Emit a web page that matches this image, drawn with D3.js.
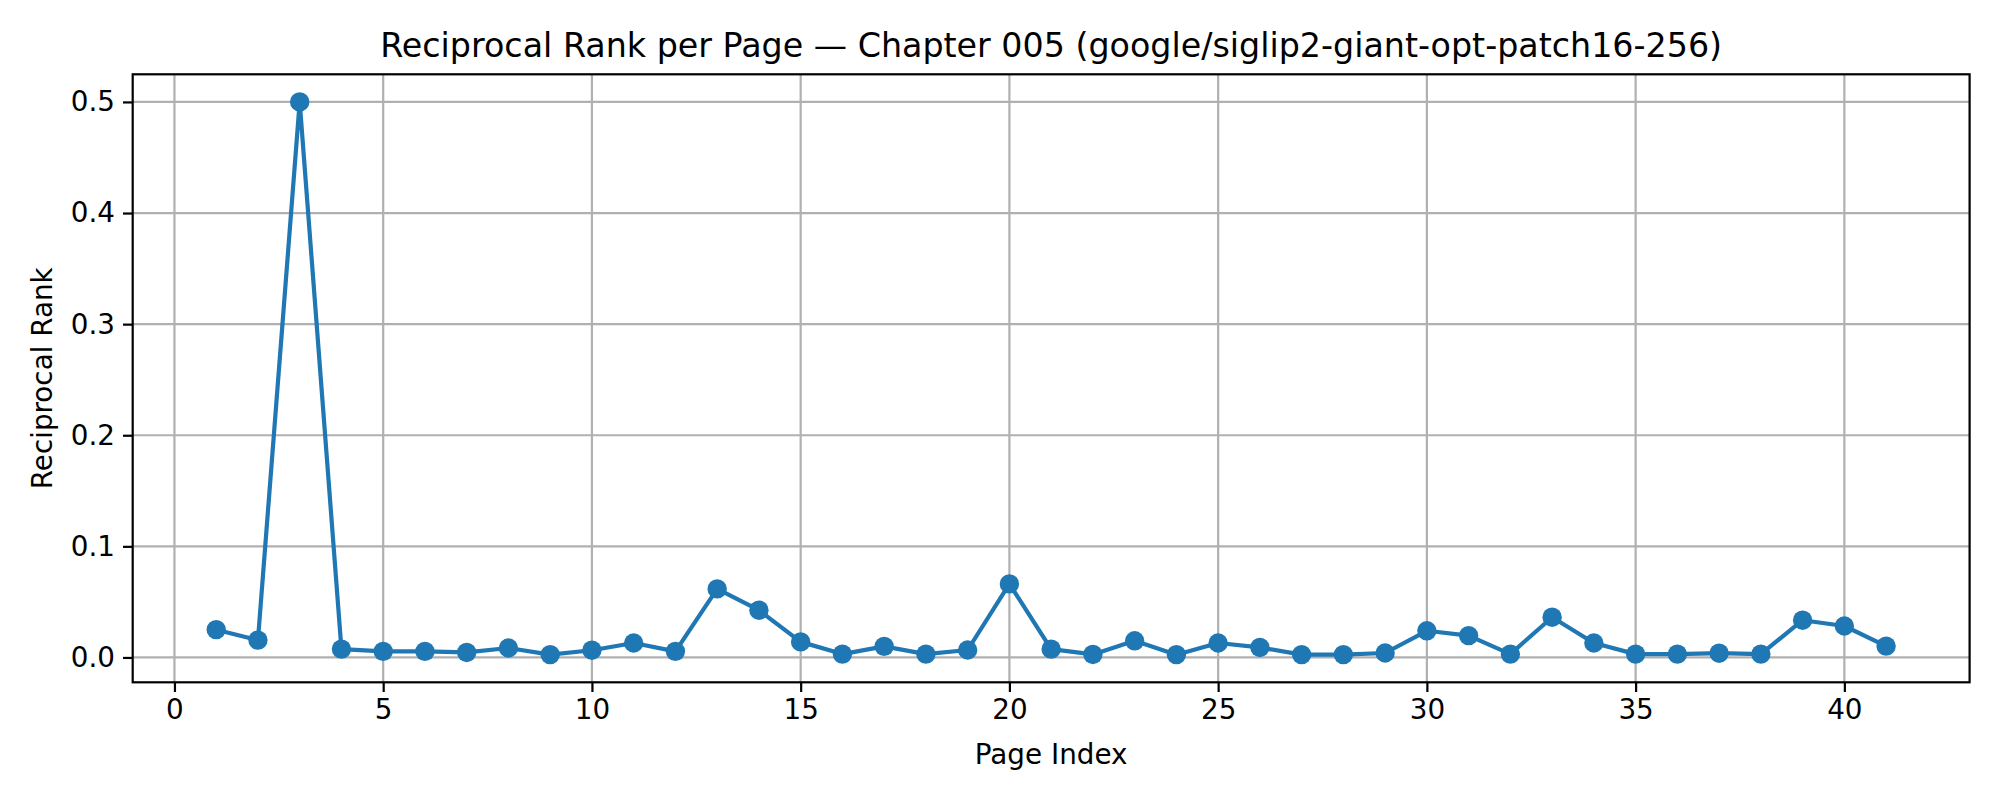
<!DOCTYPE html>
<html>
<head>
<meta charset="utf-8">
<script src="https://cdn.jsdelivr.net/npm/d3@7"></script>
<style>
  body { margin: 0; background: #fff; }
  svg text { font-family: "DejaVu Sans", sans-serif; fill: #000; }
</style>
</head>
<body>
<div id="chart"></div>
<script>
// page indices and reciprocal rank per page
const pages = d3.range(1, 42);
const ranks = [
  0.025, 0.0156, 0.5, 0.0075, 0.0055, 0.0055, 0.0045, 0.0085, 0.0025, 0.0065,
  0.013, 0.0055, 0.0617, 0.0425, 0.014, 0.003, 0.01, 0.003, 0.0067, 0.0662,
  0.0075, 0.0027, 0.015, 0.0025, 0.013, 0.009, 0.0025, 0.0025, 0.004, 0.024,
  0.0196, 0.003, 0.0362, 0.013, 0.003, 0.003, 0.0038, 0.003, 0.0335, 0.0283,
  0.0102
];
const xTicks = [0, 5, 10, 15, 20, 25, 30, 35, 40];
const yTicks = [0.0, 0.1, 0.2, 0.3, 0.4, 0.5];

const W = 2000, H = 800;
const m = { left: 132.7, right: 2000 - 1969.6, top: 74.3, bottom: 800 - 682.3 };

const svg = d3.select("#chart").append("svg")
    .attr("width", W)
    .attr("height", H);

svg.append("rect")
    .attr("width", W)
    .attr("height", H)
    .style("fill", "#fff");

// matplotlib style 5% margins
const xs = d3.scaleLinear().domain([-1, 43]).range([m.left, W - m.right]);
const yMin = d3.min(ranks), yMax = d3.max(ranks);
const pad = (yMax - yMin) * 0.05;
const ys = d3.scaleLinear().domain([yMin - pad, yMax + pad]).range([H - m.bottom, m.top]);

// grid
const grid = svg.append("g")
    .attr("stroke", "#b0b0b0")
    .attr("stroke-width", 2.2);
grid.selectAll("line.gx")
    .data(xTicks)
    .join("line")
    .attr("x1", d => xs(d)).attr("x2", d => xs(d))
    .attr("y1", m.top).attr("y2", H - m.bottom);
grid.selectAll("line.gy")
    .data(yTicks)
    .join("line")
    .attr("class", "gy")
    .attr("y1", d => ys(d)).attr("y2", d => ys(d))
    .attr("x1", m.left).attr("x2", W - m.right);

// axes
const xAxis = d3.axisBottom(xs).tickValues(xTicks).tickFormat(d3.format("d"))
    .tickSizeInner(9.7).tickSizeOuter(0).tickPadding(7);
const yAxis = d3.axisLeft(ys).tickValues(yTicks).tickFormat(d3.format(".1f"))
    .tickSizeInner(9.7).tickSizeOuter(0).tickPadding(8);

const gx = svg.append("g")
    .attr("transform", `translate(0,${H - m.bottom})`)
    .call(xAxis);
const gy = svg.append("g")
    .attr("transform", `translate(${m.left},0)`)
    .call(yAxis);

[gx, gy].forEach(g => {
  g.select(".domain").remove();
  g.selectAll(".tick line").attr("stroke", "#000").attr("stroke-width", 2.2);
  g.selectAll(".tick text")
    .style("font-family", "DejaVu Sans")
    .style("font-size", "27.8px")
    .attr("fill", "#000");
});

// line + markers
const line = d3.line()
    .x((d, i) => xs(pages[i]))
    .y(d => ys(d));

svg.append("path")
    .datum(ranks)
    .attr("d", line)
    .attr("fill", "none")
    .attr("stroke", "#1f77b4")
    .attr("stroke-width", 4.2)
    .attr("stroke-linejoin", "round")
    .attr("stroke-linecap", "butt");

svg.append("g")
    .selectAll("circle")
    .data(ranks)
    .join("circle")
    .attr("cx", (d, i) => xs(pages[i]))
    .attr("cy", d => ys(d))
    .attr("r", 9.7)
    .attr("fill", "#1f77b4");

// frame
svg.append("rect")
    .attr("x", m.left)
    .attr("y", m.top)
    .attr("width", W - m.left - m.right)
    .attr("height", H - m.top - m.bottom)
    .attr("fill", "none")
    .attr("stroke", "#000")
    .attr("stroke-width", 2.2);

// labels
svg.append("text")
    .attr("x", (m.left + W - m.right) / 2)
    .attr("y", 57)
    .attr("text-anchor", "middle")
    .style("font-size", "33.3px")
    .text("Reciprocal Rank per Page \u2014 Chapter 005 (google/siglip2-giant-opt-patch16-256)");

svg.append("text")
    .attr("x", (m.left + W - m.right) / 2)
    .attr("y", 764)
    .attr("text-anchor", "middle")
    .style("font-size", "27.8px")
    .text("Page Index");

svg.append("text")
    .attr("transform", `translate(52,${(m.top + H - m.bottom) / 2}) rotate(-90)`)
    .attr("text-anchor", "middle")
    .style("font-size", "27.8px")
    .text("Reciprocal Rank");
</script>
</body>
</html>
